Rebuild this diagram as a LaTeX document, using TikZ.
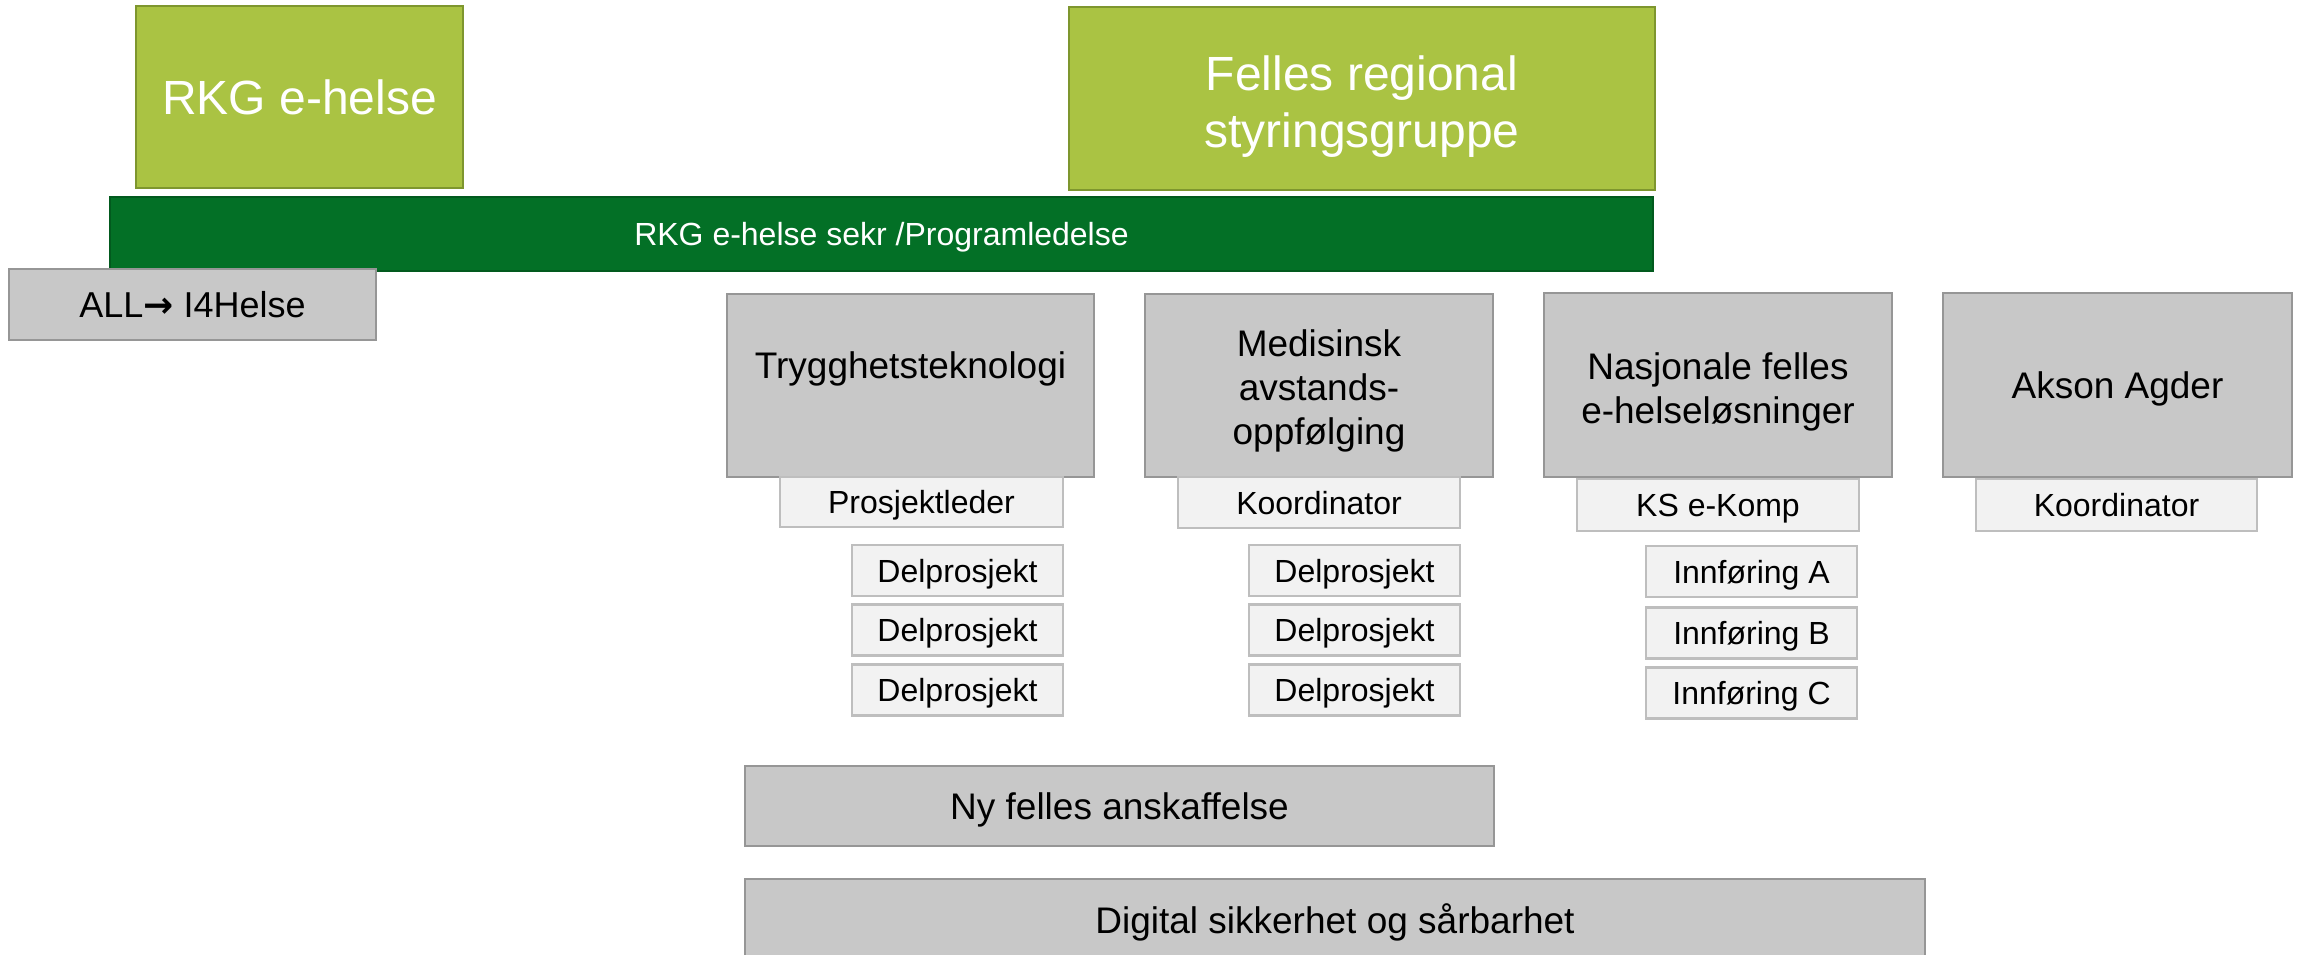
\documentclass[tikz,border=0pt]{standalone}
\usepackage{fontspec}
\setmainfont{Liberation Sans}
\newfontfamily\arrowfont{DejaVu Sans}
\newcommand\topstrt{\rule{0pt}{0.95em}}
\newcommand\botstrt{\rule[-0.22em]{0pt}{0pt}}
\definecolor{lgfill}{RGB}{170,195,67}
\definecolor{lgdraw}{RGB}{126,150,46}
\definecolor{dgfill}{RGB}{3,112,38}
\definecolor{dgdraw}{RGB}{2,90,30}
\definecolor{gfill}{RGB}{200,200,200}
\definecolor{gdraw}{RGB}{150,150,150}
\definecolor{sfill}{RGB}{242,242,242}
\definecolor{sdraw}{RGB}{190,190,190}
\begin{document}
\begin{tikzpicture}[x=1pt,y=-1pt,
  box/.style={rectangle, inner sep=0pt, outer sep=0pt, line width=2.5pt, align=center,
    execute at begin node=\topstrt, execute at end node=\botstrt},
  lgreen/.style={box, fill=lgfill, draw=lgdraw, text=white, font=\fontsize{48}{57}\selectfont},
  dgreen/.style={box, fill=dgfill, draw=dgdraw, text=white, font=\fontsize{32}{38}\selectfont},
  gbox/.style={box, fill=gfill, draw=gdraw, font=\fontsize{37}{44}\selectfont},
  sbox/.style={box, fill=sfill, draw=sdraw, font=\fontsize{32}{38}\selectfont},
  plain/.style={inner sep=0pt, outer sep=0pt, font=\fontsize{37}{44}\selectfont},
  lbl/.style={minimum width=211pt, minimum height=51pt}
]
\useasboundingbox (0,0) rectangle (2297,955);
\clip (0,0) rectangle (2297,955);

% top level
\node[lgreen, minimum width=327pt, minimum height=182pt] (rkg) at (299.5,97) {RKG e-helse};
\node[lgreen, minimum width=586pt, minimum height=183pt] (felles) at (1362,98.5) {\rule{0pt}{1.07em}Felles regional\\styringsgruppe};
\node[dgreen, minimum width=1543pt, minimum height=74pt] (sekr) at (881.5,234) {RKG e-helse sekr /Programledelse};
\node[gbox, minimum width=367pt, minimum height=71pt, font=\fontsize{36}{43}\selectfont] (all) at (192.5,304.5) {ALL{\arrowfont\bfseries →} I4Helse};

% programme boxes
\node[gbox, minimum width=367pt, minimum height=183pt] (trygg) at (910.5,385.5) {};
\node[plain, anchor=base] (tryggtxt) at (910.5,378) {Trygghetsteknologi};
\node[gbox, minimum width=348pt, minimum height=183pt] (med) at (1319,385.5) {\rule{0pt}{1.03em}Medisinsk\\avstands-\\oppfølging};
\node[gbox, minimum width=348pt, minimum height=184pt] (nasj) at (1718,385) {\rule{0pt}{1.1em}Nasjonale felles\\e-helseløsninger};
\node[gbox, minimum width=349pt, minimum height=184pt] (akson) at (2117.5,385) {Akson Agder};

% leaders
\node[sbox, minimum width=283pt, minimum height=50pt] (proj) at (921.5,502) {Prosjektleder};
\node[sbox, minimum width=282pt, minimum height=51pt] (koord1) at (1319,502.5) {Koordinator};
\node[sbox, minimum width=282pt, minimum height=52pt] (ks) at (1718,505) {KS e-Komp};
\node[sbox, minimum width=281pt, minimum height=52pt] (koord2) at (2116.5,505) {Koordinator};

% sub projects
\node[sbox, lbl] (d1a) at (957.5,570.5) {Delprosjekt};
\node[sbox, lbl] (d1b) at (957.5,630) {Delprosjekt};
\node[sbox, lbl] (d1c) at (957.5,690) {Delprosjekt};
\node[sbox, lbl] (d2a) at (1354.5,570.5) {Delprosjekt};
\node[sbox, lbl] (d2b) at (1354.5,630) {Delprosjekt};
\node[sbox, lbl] (d2c) at (1354.5,690) {Delprosjekt};
\node[sbox, lbl] (ia) at (1751.5,571.5) {Innføring A};
\node[sbox, lbl] (ib) at (1751.5,633) {Innføring B};
\node[sbox, lbl] (ic) at (1751.5,693) {Innføring C};

% bottom
\node[gbox, minimum width=749pt, minimum height=80pt] (ny) at (1119.5,806) {Ny felles anskaffelse};
\node[gbox, minimum width=1180pt, minimum height=82pt] (dig) at (1335,920) {Digital sikkerhet og sårbarhet};
\end{tikzpicture}
\end{document}
